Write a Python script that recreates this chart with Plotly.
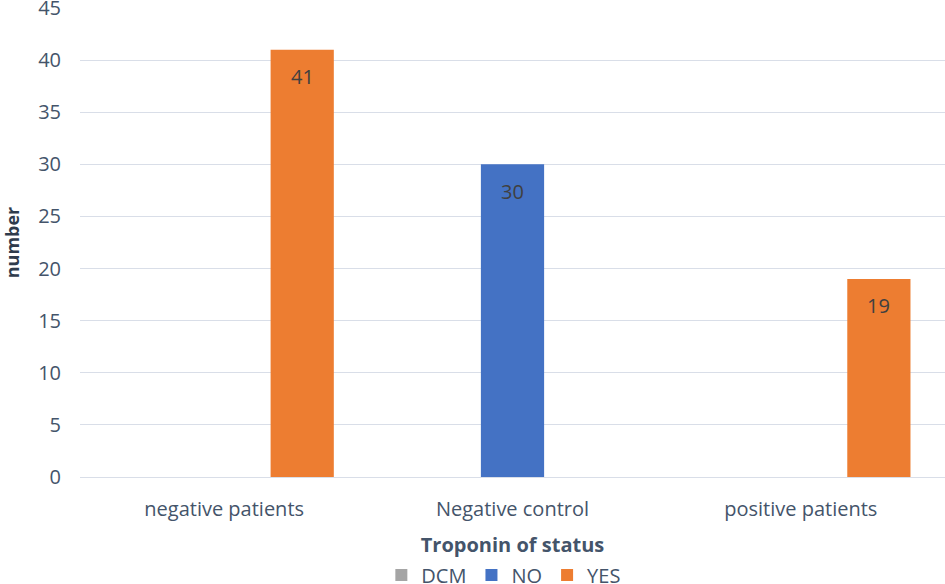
import plotly.graph_objects as go

categories = ["negative patients", "Negative control", "positive patients"]
series_names = ["DCM", "NO", "YES"]
dcm_values = [None, None, None]
no_values = [None, 30, None]
yes_values = [41, None, 19]
colors = {"DCM": "#A5A5A5", "NO": "#4472C4", "YES": "#ED7D31"}

font_family = "Open Sans, Noto Sans, sans-serif"
text_col = "#44546A"

W, H = 945, 584
ML, MR, MT, MB = 80, 0, 8, 107
BARGAP, GROUPGAP = 0.188, 0.19

fig = go.Figure()
all_vals = [dcm_values, no_values, yes_values]
for name, vals in zip(series_names, all_vals):
    fig.add_trace(go.Bar(
        x=categories, y=vals, name=name,
        marker=dict(color=colors[name], line=dict(width=0)),
        cliponaxis=False,
    ))

# data labels placed inside the top of each bar
cat_px = (W - ML - MR) / len(categories)
slot_px = cat_px * (1 - BARGAP) / len(series_names)
for si, vals in enumerate(all_vals):
    for ci, v in enumerate(vals):
        if v is None:
            continue
        fig.add_annotation(
            x=categories[ci], y=v, text=str(v), showarrow=False,
            xshift=(si - 1) * slot_px, yshift=-27, yanchor="middle",
            font=dict(color="#404040", size=20, family=font_family),
        )

fig.update_layout(
    width=W, height=H,
    margin=dict(l=ML, r=MR, t=MT, b=MB, autoexpand=False),
    paper_bgcolor="white", plot_bgcolor="white",
    barmode="group", bargap=BARGAP, bargroupgap=GROUPGAP,
    font=dict(family=font_family, color=text_col, size=20),
    legend=dict(orientation="h", x=0.49, xanchor="center", y=-0.209, yanchor="middle",
                font=dict(size=20, color=text_col), traceorder="normal",
                itemwidth=30, tracegroupgap=0),
    xaxis=dict(title=dict(text="<b>Troponin of status</b>", font=dict(size=20, color=text_col), standoff=16),
               showline=False, ticks="", tickfont=dict(size=20, color=text_col),
               ticklabelstandoff=18, automargin=True),
    yaxis=dict(title=dict(text="<b>number</b>", font=dict(size=18, color="#2F3B4C"), standoff=13),
               range=[0, 45], dtick=5, gridcolor="#D9DEE8", gridwidth=1.3,
               zeroline=True, zerolinecolor="#D9DEE8", zerolinewidth=1.3,
               ticks="", tickfont=dict(size=20, color=text_col),
               ticklabelstandoff=18, ticklabeloverflow="allow", automargin=True),
)

fig.write_html("out.html", config={"displayModeBar": False},
               post_script="document.body.style.margin='0';")
